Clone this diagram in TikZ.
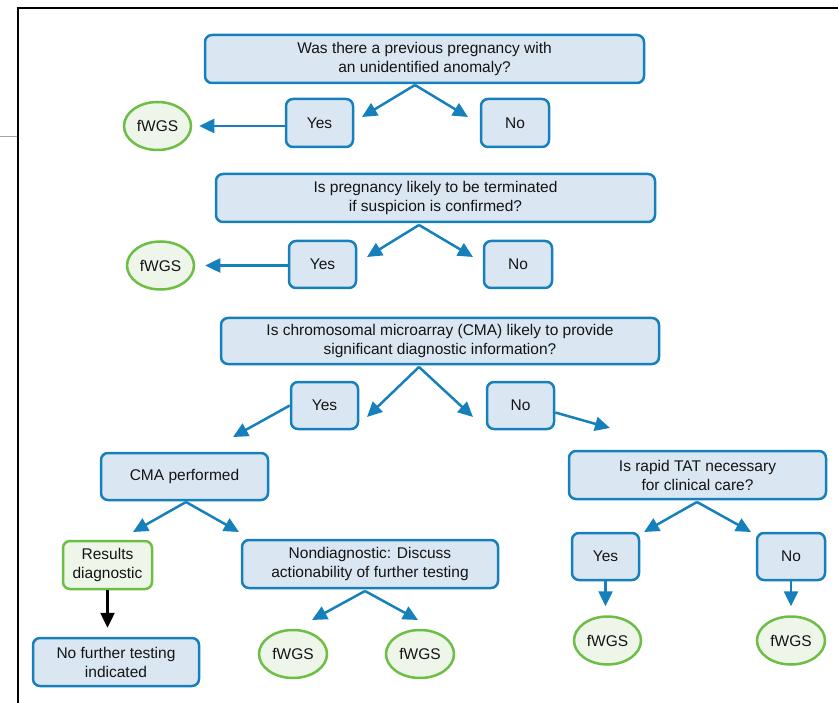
\documentclass[tikz,border=0pt]{standalone}
\usepackage{fontspec}
\setmainfont{Liberation Sans}
\usetikzlibrary{arrows.meta,shapes.geometric}
\definecolor{bfill}{HTML}{DAE7F3}
\definecolor{bline}{HTML}{1680BC}
\definecolor{gfill}{HTML}{EEF5E9}
\definecolor{gline}{HTML}{6DBE45}
\definecolor{txt}{HTML}{141414}
\begin{document}
\begin{tikzpicture}[x=1pt,y=-1pt,
  box/.style={draw=bline, fill=bfill, line width=2.5pt, rounded corners=7pt, align=center,
    inner sep=0pt, text=txt, font=\fontsize{15.5}{19}\selectfont},
  gbox/.style={box, draw=gline, fill=gfill},
  oval/.style={ellipse, draw=gline, fill=gfill, line width=2.5pt, inner sep=0pt,
    minimum width=67pt, minimum height=48pt, text=txt, font=\fontsize{15.5}{19}\selectfont},
  arr/.style={draw=bline, line width=2.5pt, -{Triangle[length=15pt,width=14pt]}},
  karr/.style={draw=black, line width=2.5pt, -{Triangle[length=15pt,width=14pt]}}]
\useasboundingbox (0,0) rectangle (838,703);
% frame
\draw[line width=2pt, black] (18,703) -- (18,8) -- (838,8);
\draw[line width=0.8pt, gray!70] (0,136) -- (17,136);

% row 1
\node[box, minimum width=439pt, minimum height=48pt] (q1) at (424.5,59) {Was there a previous pregnancy with\\an unidentified anomaly?};
\node[box, minimum width=67pt, minimum height=48pt] (y1) at (319.5,123) {Yes};
\node[box, minimum width=68pt, minimum height=48pt] (n1) at (515,123) {No};
\node[oval] (f1) at (157.5,126) {fWGS};
\coordinate (s1) at (415,85);
\coordinate (t1a) at (362,117);
\coordinate (t1b) at (468,117);
\draw[arr] (s1) -- (t1a);
\draw[arr] (s1) -- (t1b);
\draw[arr, shorten >=7pt] (f1.east -| y1.west) -- (f1.east);

% row 2
\node[box, minimum width=439pt, minimum height=48pt] (q2) at (435.5,198) {Is pregnancy likely to be terminated\\if suspicion is confirmed?};
\node[box, minimum width=67pt, minimum height=47pt] (y2) at (322.5,264.5) {Yes};
\node[box, minimum width=68pt, minimum height=47pt] (n2) at (518,264.5) {No};
\node[oval] (f2) at (160.5,265.5) {fWGS};
\coordinate (s2) at (419,225);
\coordinate (t2a) at (367,257);
\coordinate (t2b) at (473,257);
\draw[arr] (s2) -- (t2a);
\draw[arr] (s2) -- (t2b);
\draw[arr, shorten >=10pt] (f2.east -| y2.west) -- (f2.east);

% row 3
\node[box, minimum width=438pt, minimum height=46pt] (q3) at (440,341) {Is chromosomal microarray (CMA) likely to provide\\significant diagnostic information?};
\node[box, minimum width=67pt, minimum height=47pt] (y3) at (324.5,405.5) {Yes};
\node[box, minimum width=67pt, minimum height=47pt] (n3) at (520.5,405.5) {No};
\coordinate (s3) at (419,367);
\coordinate (t3a) at (367,417);
\coordinate (t3b) at (473,417);
\draw[arr] (s3) -- (t3a);
\draw[arr] (s3) -- (t3b);
\coordinate (t3c) at (233,437);
\coordinate (t3d) at (610,428);
\draw[arr] (y3.west) -- (t3c);
\draw[arr] ([yshift=-7pt]n3.east) -- (t3d);

% CMA branch
\node[box, minimum width=167pt, minimum height=47pt] (cma) at (184.5,476.5) {CMA performed};
\node[gbox, minimum width=89pt, minimum height=48pt] (rd) at (107.5,565) {Results\\diagnostic};
\node[box, minimum width=166pt, minimum height=48pt] (nft) at (116,662) {No further testing\\indicated};
\node[box, minimum width=256pt, minimum height=48pt] (nd) at (370,564) {Nondiagnostic: Discuss\\actionability of further testing};
\node[oval, minimum width=68pt] (f5) at (293,654) {fWGS};
\node[oval, minimum width=68pt] (f6) at (420,654) {fWGS};
\coordinate (s4) at (186,502);
\coordinate (t4a) at (133,532);
\coordinate (t4b) at (239,532);
\draw[arr] (s4) -- (t4a);
\draw[arr] (s4) -- (t4b);
\draw[karr, shorten >=9pt] (rd.south) -- (rd.south |- nft.north);
\coordinate (s5) at (365,591);
\coordinate (t5a) at (312,620);
\coordinate (t5b) at (418,620);
\draw[arr] (s5) -- (t5a);
\draw[arr] (s5) -- (t5b);

% TAT branch
\node[box, minimum width=257pt, minimum height=48pt] (tat) at (697.5,475) {Is rapid TAT necessary\\for clinical care?};
\node[box, minimum width=67pt, minimum height=47pt] (y4) at (605.5,556.5) {Yes};
\node[box, minimum width=68pt, minimum height=47pt] (n4) at (791,556.5) {No};
\node[oval] (f7) at (607.5,640.5) {fWGS};
\node[oval, minimum width=68pt] (f8) at (791,640.5) {fWGS};
\coordinate (s6) at (697,502);
\coordinate (t6a) at (644,532);
\coordinate (t6b) at (751,532);
\draw[arr] (s6) -- (t6a);
\draw[arr] (s6) -- (t6b);
\draw[arr, shorten >=9pt] (y4.south) -- (y4.south |- f7.north);
\draw[arr, shorten >=9pt] (n4.south) -- (n4.south |- f8.north);
\end{tikzpicture}
\end{document}
